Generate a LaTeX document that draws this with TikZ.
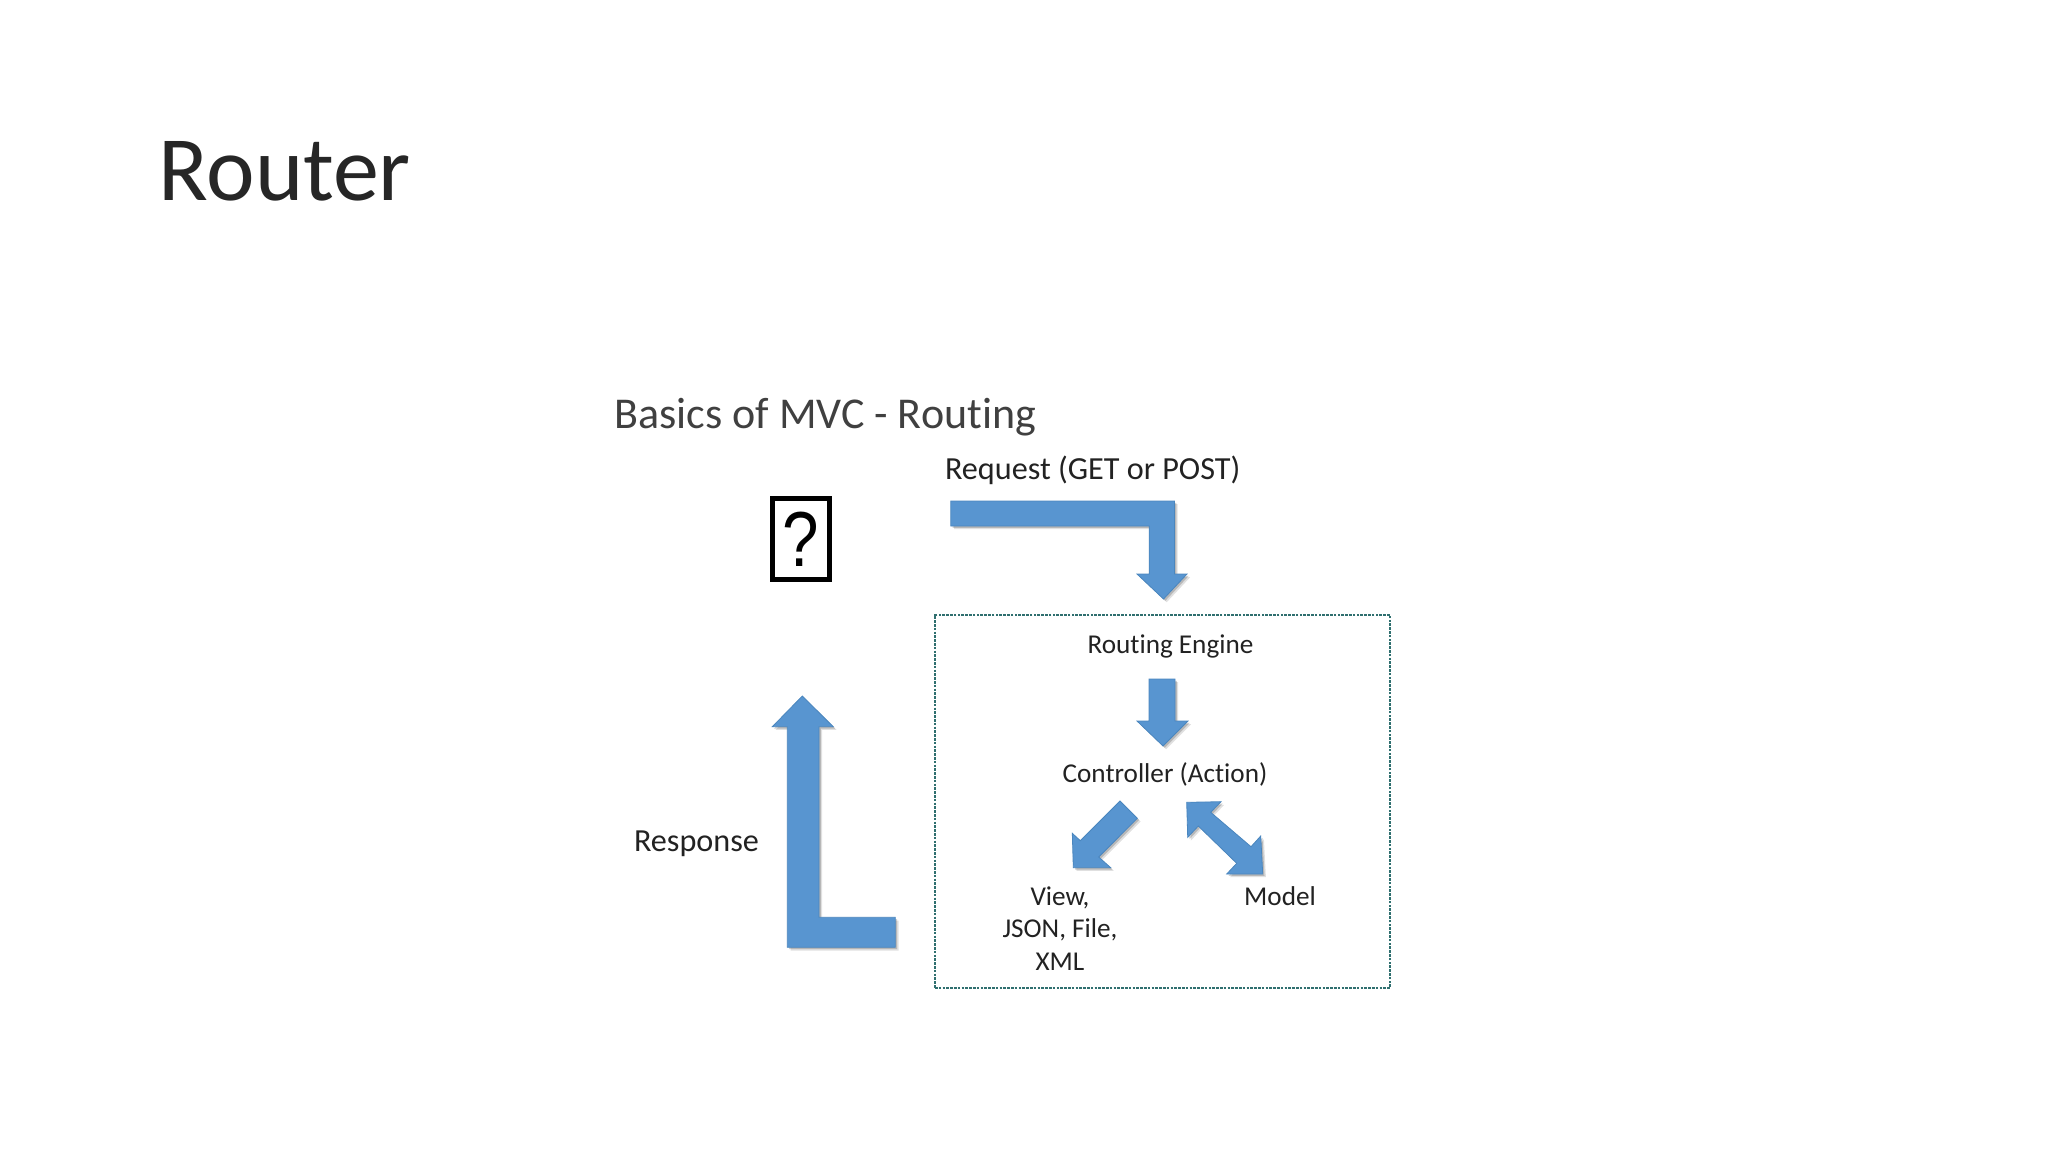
\documentclass[tikz,border=0pt]{standalone}
\usepackage{fontspec}
\setmainfont[Ligatures=NoCommon]{Carlito}
\newfontfamily\qfont{Liberation Sans}
\definecolor{arrowblue}{HTML}{5895D0}
\definecolor{arrowedge}{HTML}{4A86BE}
\definecolor{labelgray}{HTML}{222222}
\definecolor{headgray}{HTML}{404040}
\definecolor{boxteal}{HTML}{2F6F6F}
\tikzset{
  blockarrow/.style={fill=arrowblue,draw=arrowedge,line width=0.4pt,line join=miter,
    preaction={fill=black,opacity=.12,draw=none,transform canvas={shift={(1.6pt,-1.6pt)}}},
    preaction={fill=black,opacity=.18,draw=none,transform canvas={shift={(0.9pt,-0.9pt)}}}},
  lbl/.style={inner sep=0pt,outer sep=0pt,text=labelgray},
  lblw/.style={lbl,anchor=base west,font=\fontsize{16.1}{18}\selectfont},
  lblc/.style={lbl,anchor=base,font=\fontsize{13.6}{16.5}\selectfont},
}
\begin{document}
\begin{tikzpicture}[x=0.5pt,y=-0.5pt]
\useasboundingbox (0,0) rectangle (2048,1152);
\fill[white] (0,0) rectangle (2048,1152);
% title
\node[inner sep=0pt,anchor=base west,text=black!85,font=\fontsize{46}{52}\selectfont] (title) at (158,200) {Router};
\node[inner sep=0pt,anchor=base west,text=headgray,font=\fontsize{22}{26}\selectfont] (sub) at (614,428) {Basics of MVC - Routing};
\node[lblw] (req) at (945,479) {Request (GET or POST)};
\node[lblw] (resp) at (634,851) {Response};
% unknown glyph box
\node[draw=black,line width=2.5pt,minimum width=28.3pt,minimum height=40.5pt,inner sep=0pt,text=black,font=\qfont\fontsize{39}{44}\selectfont] (glyph) at (801,539) {\scalebox{.84}[1]{?}};
% routing box
\node[draw=boxteal,dash pattern=on 1.3pt off 0.6pt,line width=0.6pt,fill=white,minimum width=227.5pt,minimum height=186.5pt,inner sep=0pt] (engine) at (1162.5,801.5) {};
\node[lblc] (re) at (1170.5,653) {Routing Engine};
\node[lblc] (ctrl) at (1165,782) {Controller (Action)};
\node[lblc] (view) at (1060,905) {View,};
\node[lblc] (view2) at (1060,937) {JSON, File,};
\node[lblc] (view3) at (1060,970) {XML};
\node[lblc] (model) at (1280,905) {Model};
% arrows
\draw[blockarrow] (950.8,501) -- (1174.5,501) -- (1174.5,574) -- (1187,574) -- (1163.5,599) -- (1137,574) -- (1149.2,574) -- (1149.2,526) -- (950.8,526) -- cycle;
\draw[blockarrow] (802.3,696) -- (833.3,726.7) -- (819,726.7) -- (819,917.3) -- (895.3,917.3) -- (895.3,947.3) -- (787.3,947.3) -- (787.3,726.7) -- (772.3,726.7) -- cycle;
\draw[blockarrow] (1149,679) -- (1175,679) -- (1175,721) -- (1188,721) -- (1163,746) -- (1137,721) -- (1149,721) -- cycle;
\draw[blockarrow] (1120,801) -- (1137.3,818.3) -- (1098.7,857) -- (1110.7,867.7) -- (1073.3,867.7) -- (1072.3,833.3) -- (1080.3,840.7) -- cycle;
\draw[blockarrow] (1186.7,802.3) -- (1221,801.7) -- (1210.7,812.3) -- (1251,846.7) -- (1260.7,836) -- (1262.7,874) -- (1226.7,874) -- (1236.7,863.3) -- (1198.3,826) -- (1187.7,837.3) -- cycle;
\end{tikzpicture}
\end{document}
